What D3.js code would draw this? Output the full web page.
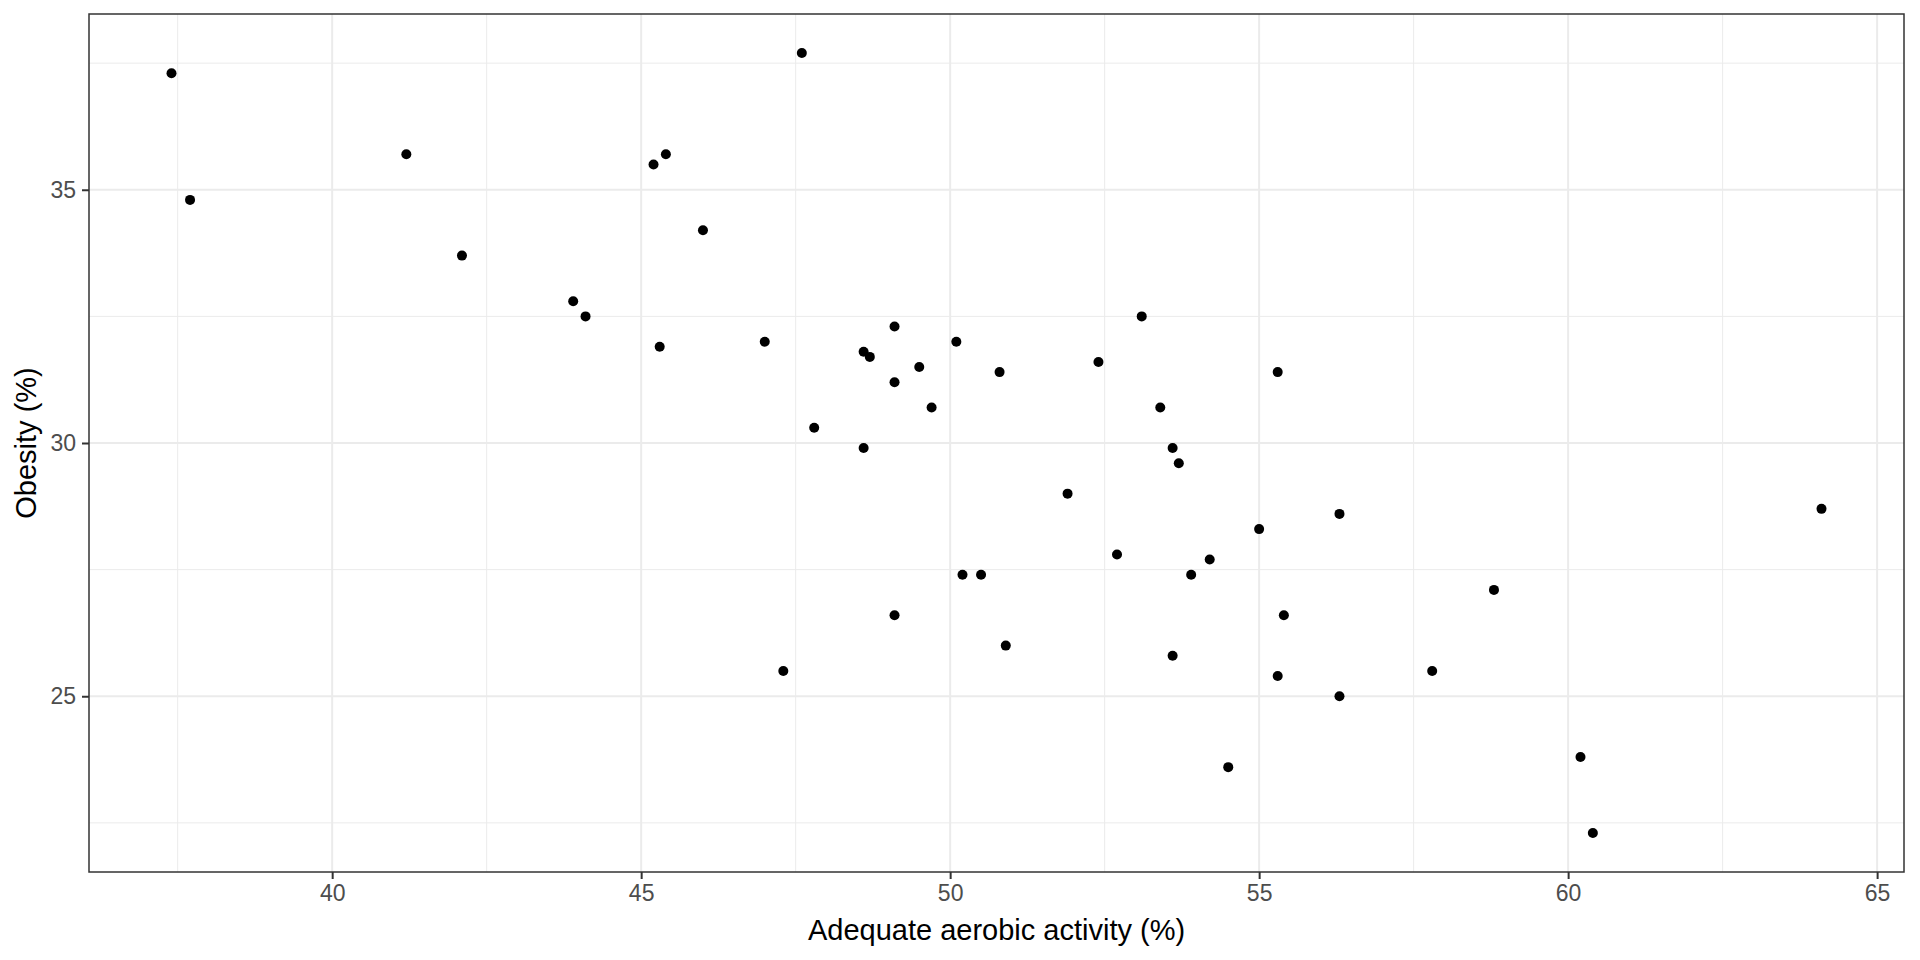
<!DOCTYPE html>
<html>
<head>
    <meta charset="UTF-8">
    <title>Activity vs obesity</title>
    <!-- link to D3.js -->
    <script src="https://d3js.org/d3.v7.min.js"></script>
    <style>
        body { margin: 0; background: white; }
        svg { display: block; }
    </style>
</head>

<body>
    <!-- div for SVG container/graph -->
    <div id="chart"></div>
</body>

<script>
    // data: one value per state
    var activity = [37.4, 37.7, 41.2, 42.1, 43.9, 44.1, 45.2, 45.4, 45.3, 46.0,
                    47.0, 47.6, 47.3, 47.8, 48.6, 48.6, 48.7, 49.1, 49.1, 49.1,
                    49.5, 49.7, 50.1, 50.2, 50.5, 50.8, 50.9, 51.9, 52.4, 52.7,
                    53.1, 53.4, 53.6, 53.7, 53.6, 53.9, 54.2, 54.5, 55.0, 55.3,
                    55.4, 55.3, 56.3, 56.3, 57.8, 58.8, 60.2, 60.4, 64.1];
    var obesity = [37.3, 34.8, 35.7, 33.7, 32.8, 32.5, 35.5, 35.7, 31.9, 34.2,
                   32.0, 37.7, 25.5, 30.3, 29.9, 31.8, 31.7, 32.3, 31.2, 26.6,
                   31.5, 30.7, 32.0, 27.4, 27.4, 31.4, 26.0, 29.0, 31.6, 27.8,
                   32.5, 30.7, 29.9, 29.6, 25.8, 27.4, 27.7, 23.6, 28.3, 31.4,
                   26.6, 25.4, 28.6, 25.0, 25.5, 27.1, 23.8, 22.3, 28.7];

    // axis breaks
    var xTicks = [40, 45, 50, 55, 60, 65];
    var yTicks = [25, 30, 35];
    var xMinor = [37.5, 42.5, 47.5, 52.5, 57.5, 62.5];
    var yMinor = [22.5, 27.5, 32.5, 37.5];

    var xTitle = "Adequate aerobic activity (%)";
    var yTitle = "Obesity (%)";

    var width = 1920, height = 960;
    var margin = {top: 14, right: 16, bottom: 88, left: 89};
    var font = "'Liberation Sans', Arial, sans-serif";

    // pairs of points
    var data = activity.map(function(d, i) {
        return {x: d, y: obesity[i]};
    });

    // ggplot style 5% padding on both ends
    function padded(values) {
        var ext = d3.extent(values);
        var pad = (ext[1] - ext[0]) * 0.05;
        return [ext[0] - pad, ext[1] + pad];
    }

    var xScale = d3.scaleLinear()
        .domain(padded(activity))
        .range([margin.left, width - margin.right]);

    var yScale = d3.scaleLinear()
        .domain(padded(obesity))
        .range([height - margin.bottom, margin.top]);

    var svg = d3.select("#chart").append("svg")
        .attr("width", width)
        .attr("height", height);

    svg.append("rect")
        .attr("width", width)
        .attr("height", height)
        .attr("fill", "white");

    // clip so grid lines stay inside the panel
    svg.append("clipPath").attr("id", "panel")
        .append("rect")
        .attr("x", margin.left)
        .attr("y", margin.top)
        .attr("width", width - margin.left - margin.right)
        .attr("height", height - margin.top - margin.bottom);

    var grid = svg.append("g").attr("clip-path", "url(#panel)");

    // minor grid first, then major on top
    grid.selectAll(".xminor").data(xMinor).enter().append("line")
        .attr("x1", function(d) { return xScale(d); })
        .attr("x2", function(d) { return xScale(d); })
        .attr("y1", margin.top)
        .attr("y2", height - margin.bottom)
        .attr("stroke", "#ebebeb")
        .attr("stroke-width", 1);

    grid.selectAll(".yminor").data(yMinor).enter().append("line")
        .attr("x1", margin.left)
        .attr("x2", width - margin.right)
        .attr("y1", function(d) { return yScale(d); })
        .attr("y2", function(d) { return yScale(d); })
        .attr("stroke", "#ebebeb")
        .attr("stroke-width", 1);

    grid.selectAll(".xmajor").data(xTicks).enter().append("line")
        .attr("x1", function(d) { return xScale(d); })
        .attr("x2", function(d) { return xScale(d); })
        .attr("y1", margin.top)
        .attr("y2", height - margin.bottom)
        .attr("stroke", "#ebebeb")
        .attr("stroke-width", 2);

    grid.selectAll(".ymajor").data(yTicks).enter().append("line")
        .attr("x1", margin.left)
        .attr("x2", width - margin.right)
        .attr("y1", function(d) { return yScale(d); })
        .attr("y2", function(d) { return yScale(d); })
        .attr("stroke", "#ebebeb")
        .attr("stroke-width", 2);

    // points
    svg.append("g").selectAll("circle")
        .data(data)
        .enter()
        .append("circle")
            .attr("cx", function(d) { return xScale(d.x); })
            .attr("cy", function(d) { return yScale(d.y); })
            .attr("r", 5)
            .attr("fill", "black");

    // panel border
    svg.append("rect")
        .attr("x", margin.left)
        .attr("y", margin.top)
        .attr("width", width - margin.left - margin.right)
        .attr("height", height - margin.top - margin.bottom)
        .attr("fill", "none")
        .attr("stroke", "#333333")
        .attr("stroke-width", 1.5);

    // axes: ticks outside, no domain line (border draws it)
    var xAxis = d3.axisBottom(xScale)
        .tickValues(xTicks)
        .tickSize(7)
        .tickPadding(6);

    var yAxis = d3.axisLeft(yScale)
        .tickValues(yTicks)
        .tickSize(7)
        .tickPadding(6);

    var gx = svg.append("g")
        .attr("transform", "translate(0," + (height - margin.bottom) + ")")
        .call(xAxis);

    var gy = svg.append("g")
        .attr("transform", "translate(" + margin.left + ",0)")
        .call(yAxis);

    [gx, gy].forEach(function(g) {
        g.select(".domain").remove();
        g.selectAll(".tick line")
            .attr("stroke", "#333333")
            .attr("stroke-width", 2);
        g.selectAll(".tick text")
            .attr("fill", "#4d4d4d")
            .attr("font-family", font)
            .attr("font-size", "23px");
    });

    // axis titles
    svg.append("text")
        .attr("x", (margin.left + width - margin.right) / 2)
        .attr("y", 940)
        .attr("text-anchor", "middle")
        .attr("font-family", font)
        .attr("font-size", "29px")
        .attr("fill", "black")
        .text(xTitle);

    svg.append("text")
        .attr("transform", "translate(36," + ((margin.top + height - margin.bottom) / 2) + ") rotate(-90)")
        .attr("text-anchor", "middle")
        .attr("font-family", font)
        .attr("font-size", "29px")
        .attr("fill", "black")
        .text(yTitle);
</script>

</html>
